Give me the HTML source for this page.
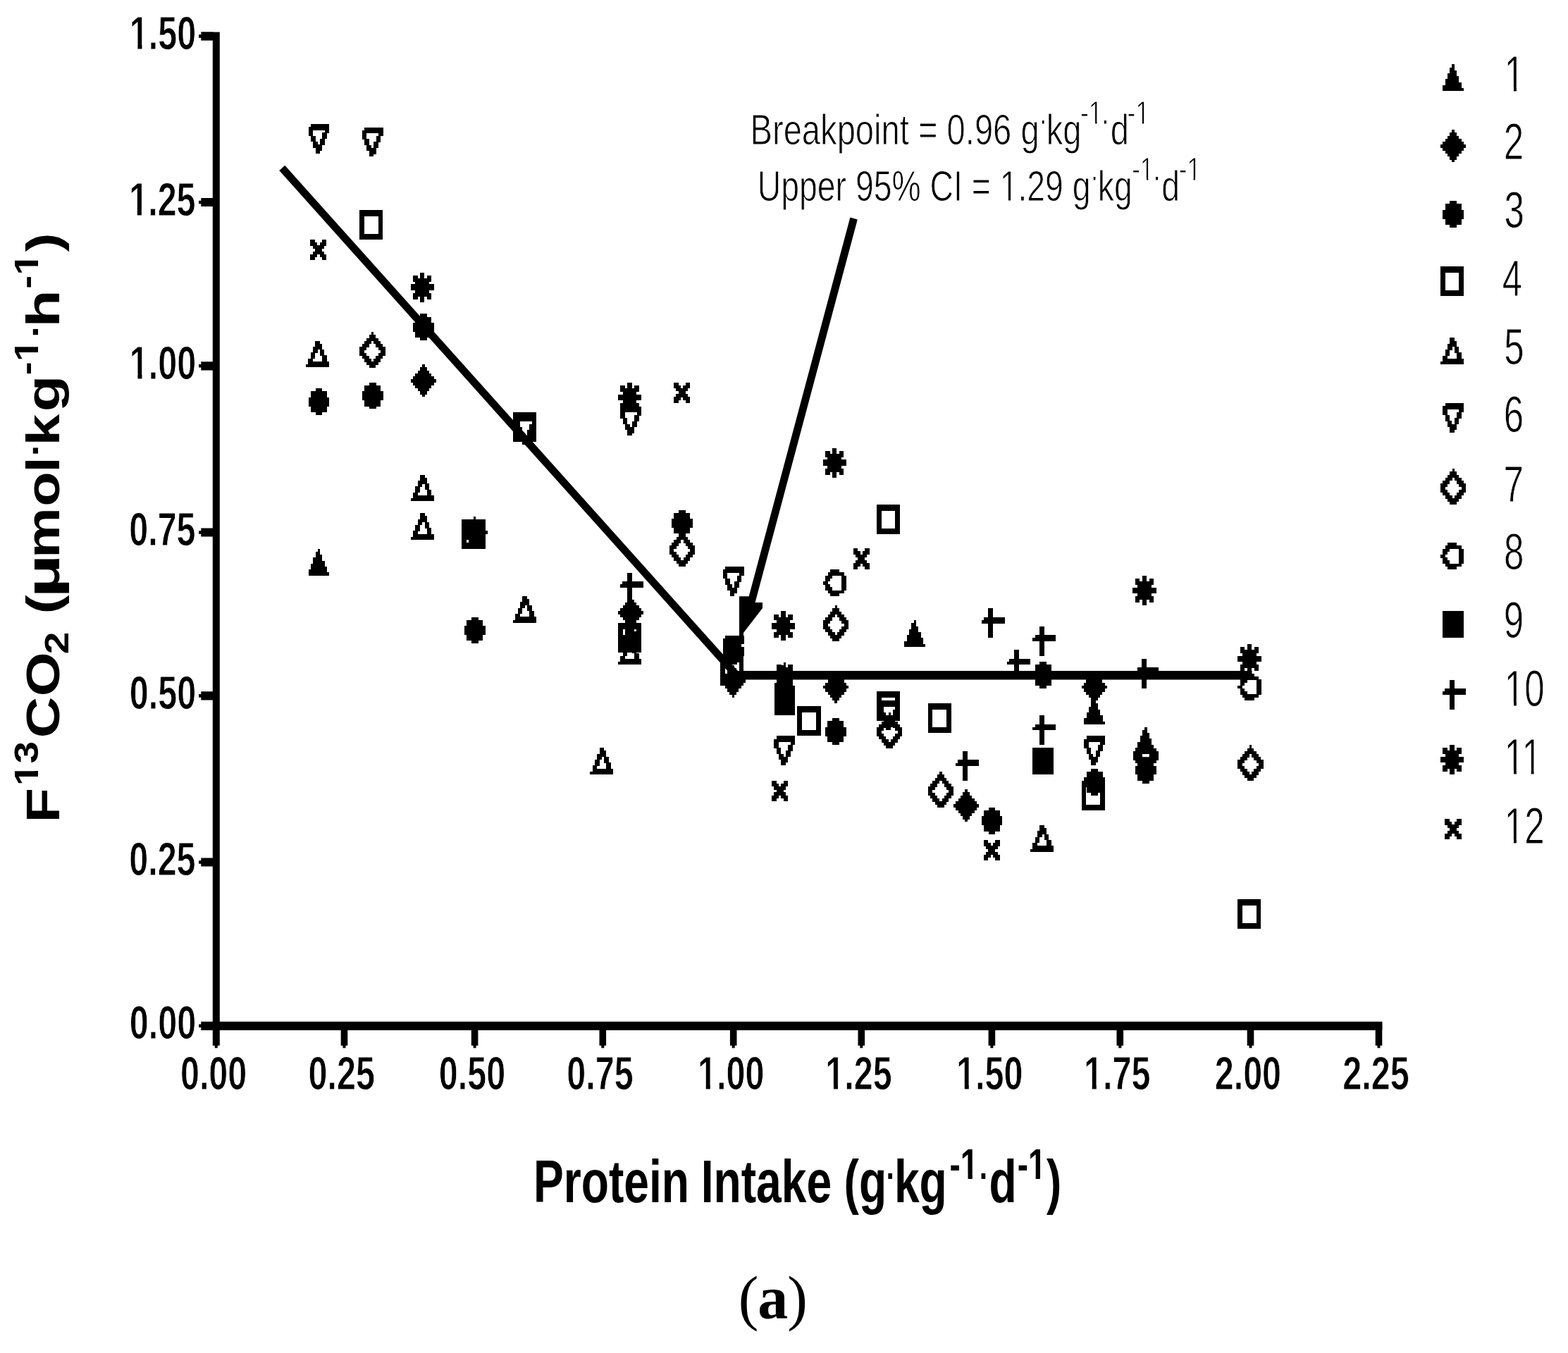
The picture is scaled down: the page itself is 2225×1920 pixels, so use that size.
<!DOCTYPE html>
<html lang="en"><head><meta charset="utf-8"><title>Breakpoint analysis of protein intake</title>
<style>html,body{margin:0;padding:0;background:#fff}body{width:2225px;height:1920px;overflow:hidden}svg{display:block}text{fill:#000}.s{font-family:"Liberation Sans",Arial,Helvetica,sans-serif}.r{font-family:"Liberation Serif","Times New Roman",serif}.b{font-weight:700}</style></head><body>
<svg xmlns="http://www.w3.org/2000/svg" width="2225" height="1920" viewBox="0 0 2225 1920" shape-rendering="geometricPrecision">
<rect width="2225" height="1920" fill="#fff"/>
<g fill="#000">
<path d="M301.8 45.4H311.8V1483.7H301.8ZM304.8 1482.7H308.8V1487.3H304.8ZM285.3 1449.7H1961.5V1461.9H285.3ZM282.1 1453.5H285.7V1458.1H282.1ZM285.3 1217.4H302.8V1229.6H285.3ZM282.1 1221.2H285.7V1225.8H282.1ZM285.3 981.3H302.8V993.5H285.3ZM282.1 985.1H285.7V989.7H282.1ZM285.3 749.4H302.8V761.6H285.3ZM282.1 753.2H285.7V757.8H282.1ZM285.3 513.2H302.8V525.4H285.3ZM282.1 517H285.7V521.6H282.1ZM285.3 280.9H302.8V293.1H285.3ZM282.1 284.7H285.7V289.3H282.1ZM285.3 45.25H302.8V57.45H285.3ZM282.1 49.05H285.7V53.65H282.1ZM483.7 1460.9H493.3V1483.7H483.7ZM486.5 1482.7H490.5V1487.3H486.5ZM668.8 1460.9H678.4V1483.7H668.8ZM671.6 1482.7H675.6V1487.3H671.6ZM850.5 1460.9H860.1V1483.7H850.5ZM853.3 1482.7H857.3V1487.3H853.3ZM1035.9 1460.9H1045.5V1483.7H1035.9ZM1038.7 1482.7H1042.7V1487.3H1038.7ZM1217.5 1460.9H1227.1V1483.7H1217.5ZM1220.3 1482.7H1224.3V1487.3H1220.3ZM1402.6 1460.9H1412.2V1483.7H1402.6ZM1405.4 1482.7H1409.4V1487.3H1405.4ZM1584.5 1460.9H1594.1V1483.7H1584.5ZM1587.3 1482.7H1591.3V1487.3H1587.3ZM1769.7 1460.9H1779.3V1483.7H1769.7ZM1772.5 1482.7H1776.5V1487.3H1772.5ZM1951.7 1460.9H1961.3V1483.7H1951.7ZM1954.5 1482.7H1958.5V1487.3H1954.5Z"/>
<path d="M400.3 238.4L1048 961.3" fill="none" stroke="#000" stroke-width="10.8"/>
<path d="M1040 958.2L1776.5 958.2" fill="none" stroke="#000" stroke-width="12.4"/>
<path d="M1211.6 310L1066.5 853" fill="none" stroke="#000" stroke-width="10.8"/>
<path d="M1049 846.3L1064 846.3L1072 855L1082 855L1082 863L1055 898L1055 903L1049 903Z"/>
<defs><path id="m1" d="M13.24 0H16.55V4.54H13.24ZM9.93 4.19H16.55V8.73H9.93ZM9.93 8.38H19.86V12.92H9.93ZM6.62 12.57H19.86V17.11H6.62ZM6.62 16.76H23.17V21.3H6.62ZM3.31 20.95H23.17V25.49H3.31ZM3.31 25.14H26.48V29.68H3.31ZM0 29.33H26.48V33.87H0ZM0 33.52H29.79V37.71H0Z"/><path id="m2" d="M16.55 0H19.86V4.54H16.55ZM13.24 4.19H23.17V8.73H13.24ZM9.93 8.38H26.48V12.92H9.93ZM6.62 12.57H29.79V17.11H6.62ZM3.31 16.76H33.1V21.3H3.31ZM0 20.95H36.41V25.49H0ZM3.31 25.14H33.1V29.68H3.31ZM6.62 29.33H29.79V33.87H6.62ZM9.93 33.52H26.48V38.06H9.93ZM13.24 37.71H23.17V42.25H13.24ZM16.55 41.9H19.86V46.09H16.55Z"/><path id="m3" d="M9.93 0H19.86V4.54H9.93ZM3.31 4.19H26.48V8.73H3.31ZM3.31 8.38H26.48V12.92H3.31ZM0 12.57H29.79V17.11H0ZM0 16.76H29.79V21.3H0ZM0 20.95H29.79V25.49H0ZM3.31 25.14H26.48V29.68H3.31ZM3.31 29.33H26.48V33.87H3.31ZM9.93 33.52H19.86V37.71H9.93Z"/><path id="m4" d="M0 0H33.1V4.54H0ZM0 4.19H33.1V8.73H0ZM0 8.38H6.62V12.92H0ZM26.48 8.38H33.1V12.92H26.48ZM0 12.57H6.62V17.11H0ZM26.48 12.57H33.1V17.11H26.48ZM0 16.76H6.62V21.3H0ZM26.48 16.76H33.1V21.3H26.48ZM0 20.95H6.62V25.49H0ZM26.48 20.95H33.1V25.49H26.48ZM0 25.14H6.62V29.68H0ZM26.48 25.14H33.1V29.68H26.48ZM0 29.33H6.62V33.87H0ZM26.48 29.33H33.1V33.87H26.48ZM0 33.52H33.1V38.06H0ZM0 37.71H33.1V41.9H0Z"/><path id="m5" d="M13.24 0H19.86V4.54H13.24ZM13.24 4.19H23.17V8.73H13.24ZM9.93 8.38H23.17V12.92H9.93ZM9.93 12.57H16.55V17.11H9.93ZM19.86 12.57H26.48V17.11H19.86ZM6.62 16.76H13.24V21.3H6.62ZM19.86 16.76H26.48V21.3H19.86ZM6.62 20.95H13.24V25.49H6.62ZM23.17 20.95H29.79V25.49H23.17ZM3.31 25.14H9.93V29.68H3.31ZM23.17 25.14H29.79V29.68H23.17ZM3.31 29.33H33.1V33.87H3.31ZM0 33.52H33.1V37.71H0Z"/><path id="m6" d="M3.31 0H29.79V4.54H3.31ZM0 4.19H29.79V8.73H0ZM0 8.38H6.62V12.92H0ZM23.17 8.38H29.79V12.92H23.17ZM0 12.57H6.62V17.11H0ZM19.86 12.57H26.48V17.11H19.86ZM3.31 16.76H9.93V21.3H3.31ZM19.86 16.76H26.48V21.3H19.86ZM3.31 20.95H9.93V25.49H3.31ZM16.55 20.95H23.17V25.49H16.55ZM6.62 25.14H13.24V29.68H6.62ZM16.55 25.14H23.17V29.68H16.55ZM6.62 29.33H19.86V33.87H6.62ZM9.93 33.52H19.86V38.06H9.93ZM9.93 37.71H16.55V41.9H9.93Z"/><path id="m7" d="M16.55 0H19.86V4.54H16.55ZM13.24 4.19H23.17V8.73H13.24ZM9.93 8.38H26.48V12.92H9.93ZM6.62 12.57H16.55V17.11H6.62ZM19.86 12.57H29.79V17.11H19.86ZM3.31 16.76H13.24V21.3H3.31ZM23.17 16.76H33.1V21.3H23.17ZM0 20.95H9.93V25.49H0ZM26.48 20.95H36.41V25.49H26.48ZM0 25.14H6.62V29.68H0ZM29.79 25.14H36.41V29.68H29.79ZM0 29.33H9.93V33.87H0ZM26.48 29.33H36.41V33.87H26.48ZM3.31 33.52H13.24V38.06H3.31ZM23.17 33.52H33.1V38.06H23.17ZM6.62 37.71H16.55V42.25H6.62ZM19.86 37.71H29.79V42.25H19.86ZM9.93 41.9H26.48V46.44H9.93ZM13.24 46.09H23.17V50.28H13.24Z"/><path id="m8" d="M9.93 0H23.17V4.54H9.93ZM6.62 4.19H29.79V8.73H6.62ZM3.31 8.38H13.24V12.92H3.31ZM26.48 8.38H33.1V12.92H26.48ZM3.31 12.57H9.93V17.11H3.31ZM26.48 12.57H33.1V17.11H26.48ZM0 16.76H6.62V21.3H0ZM26.48 16.76H33.1V21.3H26.48ZM3.31 20.95H9.93V25.49H3.31ZM26.48 20.95H33.1V25.49H26.48ZM3.31 25.14H13.24V29.68H3.31ZM26.48 25.14H33.1V29.68H26.48ZM6.62 29.33H29.79V33.87H6.62ZM9.93 33.52H23.17V37.71H9.93Z"/><path id="m9" d="M0 0H29.79V4.54H0ZM0 4.19H29.79V8.73H0ZM0 8.38H29.79V12.92H0ZM0 12.57H29.79V17.11H0ZM0 16.76H29.79V21.3H0ZM0 20.95H29.79V25.49H0ZM0 25.14H29.79V29.68H0ZM0 29.33H29.79V33.87H0ZM0 33.52H29.79V37.71H0Z"/><path id="m10" d="M9.93 0H16.55V4.54H9.93ZM9.93 4.19H16.55V8.73H9.93ZM9.93 8.38H16.55V12.92H9.93ZM3.31 12.57H33.1V17.11H3.31ZM0 16.76H33.1V21.3H0ZM9.93 20.95H16.55V25.49H9.93ZM9.93 25.14H16.55V29.68H9.93ZM9.93 29.33H16.55V33.87H9.93ZM9.93 33.52H16.55V38.06H9.93ZM9.93 37.71H16.55V41.9H9.93Z"/><path id="m11" d="M13.24 0H19.86V4.54H13.24ZM3.31 4.19H9.93V8.73H3.31ZM13.24 4.19H19.86V8.73H13.24ZM23.17 4.19H29.79V8.73H23.17ZM3.31 8.38H29.79V12.92H3.31ZM6.62 12.57H26.48V17.11H6.62ZM0 16.76H33.1V21.3H0ZM0 20.95H33.1V25.49H0ZM6.62 25.14H26.48V29.68H6.62ZM3.31 29.33H29.79V33.87H3.31ZM3.31 33.52H9.93V38.06H3.31ZM13.24 33.52H19.86V38.06H13.24ZM23.17 33.52H29.79V38.06H23.17ZM13.24 37.71H19.86V41.9H13.24Z"/><path id="m12" d="M0 0H6.62V4.54H0ZM16.55 0H23.17V4.54H16.55ZM0 4.19H9.93V8.73H0ZM13.24 4.19H23.17V8.73H13.24ZM3.31 8.38H19.86V12.92H3.31ZM6.62 12.57H16.55V17.11H6.62ZM3.31 16.76H19.86V21.3H3.31ZM0 20.95H9.93V25.49H0ZM13.24 20.95H23.17V25.49H13.24ZM0 25.14H6.62V29.33H0ZM16.55 25.14H23.17V29.33H16.55Z"/></defs>
<g shape-rendering="crispEdges"><use href="#m1" x="437.6" y="778.9"/><use href="#m1" x="880.3" y="879.7"/><use href="#m1" x="1098.6" y="939.5"/><use href="#m1" x="1283.4" y="880.2"/><use href="#m1" x="1538.2" y="990"/><use href="#m1" x="1611" y="1031.7"/><use href="#m2" x="582.7" y="517.3"/><use href="#m2" x="655.4" y="732.5"/><use href="#m2" x="877" y="846.5"/><use href="#m2" x="1022" y="943.5"/><use href="#m2" x="1167.9" y="951.9"/><use href="#m2" x="1352.9" y="1120.3"/><use href="#m2" x="1534.7" y="951.9"/><use href="#m2" x="1607.6" y="1049.1"/><use href="#m7" x="1607.6" y="1044.95"/><use href="#m3" x="437.6" y="551.1"/><use href="#m3" x="513.8" y="542.7"/><use href="#m3" x="586" y="445.4"/><use href="#m3" x="658.9" y="875.6"/><use href="#m3" x="952.9" y="723.5"/><use href="#m3" x="1025.8" y="905.7"/><use href="#m3" x="1171" y="1019.2"/><use href="#m3" x="1392.6" y="1145.8"/><use href="#m3" x="1465.4" y="939"/><use href="#m3" x="1538.2" y="1090.8"/><use href="#m3" x="1611" y="1074"/><use href="#m4" x="510.3" y="298.1"/><use href="#m4" x="728.1" y="585.1"/><use href="#m4" x="877" y="883.9"/><use href="#m4" x="1022.3" y="931"/><use href="#m4" x="1131.4" y="1002.4"/><use href="#m4" x="1244" y="716"/><use href="#m4" x="1244" y="981.2"/><use href="#m4" x="1316.7" y="998"/><use href="#m4" x="1534.7" y="1108"/><use href="#m4" x="1756.3" y="1276.4"/><use href="#m5" x="434" y="483.5"/><use href="#m5" x="582.7" y="673.6"/><use href="#m5" x="582.7" y="728.2"/><use href="#m5" x="728.1" y="846"/><use href="#m5" x="837.3" y="1061.3"/><use href="#m5" x="877" y="905.6"/><use href="#m5" x="1462" y="1171"/><use href="#m6" x="437.6" y="175.9"/><use href="#m6" x="513.8" y="180.5"/><use href="#m6" x="731.5" y="589"/><use href="#m6" x="880.4" y="576.6"/><use href="#m6" x="1025.8" y="804.3"/><use href="#m6" x="1025.8" y="901.5"/><use href="#m6" x="1098.4" y="1044.4"/><use href="#m6" x="1247.3" y="994"/><use href="#m6" x="1538.2" y="1044.4"/><use href="#m7" x="510.3" y="471.3"/><use href="#m7" x="949.7" y="753.4"/><use href="#m7" x="1168" y="859.3"/><use href="#m7" x="1244" y="1011.3"/><use href="#m7" x="1316.7" y="1095.3"/><use href="#m7" x="1756.3" y="1057.4"/><use href="#m8" x="1168" y="808.2"/><use href="#m8" x="1756.4" y="956"/><use href="#m4" x="655.4" y="736.9"/><use href="#m9" x="1098.6" y="976.9"/><use href="#m9" x="1465.3" y="1061.3"/><use href="#m10" x="880" y="812.7"/><use href="#m10" x="1356" y="1065.8"/><use href="#m10" x="1392.5" y="863.4"/><use href="#m10" x="1429" y="922"/><use href="#m10" x="1465.2" y="888.7"/><use href="#m10" x="1465.2" y="1015.1"/><use href="#m10" x="1610.5" y="934.8"/><use href="#m11" x="582.6" y="386.7"/><use href="#m11" x="877" y="542.8"/><use href="#m11" x="1095" y="867.4"/><use href="#m11" x="1167.6" y="635.7"/><use href="#m11" x="1607.4" y="816.9"/><use href="#m11" x="1756.4" y="913.9"/><use href="#m12" x="440.3" y="340"/><use href="#m12" x="956" y="542.5"/><use href="#m12" x="1095" y="1107.7"/><use href="#m12" x="1101.9" y="943.3"/><use href="#m12" x="1210.6" y="778.2"/><use href="#m12" x="1395.8" y="1191.9"/><use href="#m1" x="2047.2" y="91.4"/><use href="#m2" x="2043.9" y="184.3"/><use href="#m3" x="2047.2" y="285.3"/><use href="#m4" x="2044" y="378.1"/><use href="#m5" x="2044" y="479.4"/><use href="#m6" x="2047.2" y="572.3"/><use href="#m7" x="2044" y="665.3"/><use href="#m8" x="2044" y="770.2"/><use href="#m9" x="2047.2" y="867.4"/><use href="#m10" x="2047" y="964.7"/><use href="#m11" x="2044" y="1056.8"/><use href="#m12" x="2050.4" y="1162"/></g>
<rect x="1620.9" y="1070" width="9.9" height="4.2" fill="#fff"/>
</g>
<text class="s b" transform="scale(0.7260,1)" stroke="#fff" stroke-width="0.9"><tspan x="253.19" y="1474.5" font-size="66.8">0.00</tspan></text>
<text class="s b" transform="scale(0.7260,1)" stroke="#fff" stroke-width="0.9"><tspan x="252.35" y="1242.2" font-size="66.8">0.25</tspan></text>
<text class="s b" transform="scale(0.7260,1)" stroke="#fff" stroke-width="0.9"><tspan x="253.19" y="1006.1" font-size="66.8">0.50</tspan></text>
<text class="s b" transform="scale(0.7260,1)" stroke="#fff" stroke-width="0.9"><tspan x="252.35" y="774.2" font-size="66.8">0.75</tspan></text>
<text class="s b" transform="scale(0.7260,1)" stroke="#fff" stroke-width="0.9"><tspan x="253.19" y="538" font-size="66.8">1.00</tspan></text>
<path transform="scale(0.7260,1)" fill="#fff" d="M256.06 530.38H269.2v9.12H256.06ZM277.52 530.38H289.79v9.12H277.52Z"/>
<text class="s b" transform="scale(0.7260,1)" stroke="#fff" stroke-width="0.9"><tspan x="252.35" y="305.7" font-size="66.8">1.25</tspan></text>
<path transform="scale(0.7260,1)" fill="#fff" d="M255.22 298.08H268.37v9.12H255.22ZM276.68 298.08H288.96v9.12H276.68Z"/>
<text class="s b" transform="scale(0.7260,1)" stroke="#fff" stroke-width="0.9"><tspan x="253.19" y="70.05" font-size="66.8">1.50</tspan></text>
<path transform="scale(0.7260,1)" fill="#fff" d="M256.06 62.43H269.2v9.12H256.06ZM277.52 62.43H289.79v9.12H277.52Z"/>
<text class="s b" transform="scale(0.7260,1)" stroke="#fff" stroke-width="0.9"><tspan x="352.5" y="1546.1" font-size="66.8">0.00</tspan></text>
<text class="s b" transform="scale(0.7260,1)" stroke="#fff" stroke-width="0.9"><tspan x="602.76" y="1546.1" font-size="66.8">0.25</tspan></text>
<text class="s b" transform="scale(0.7260,1)" stroke="#fff" stroke-width="0.9"><tspan x="857.87" y="1546.1" font-size="66.8">0.50</tspan></text>
<text class="s b" transform="scale(0.7260,1)" stroke="#fff" stroke-width="0.9"><tspan x="1107.86" y="1546.1" font-size="66.8">0.75</tspan></text>
<text class="s b" transform="scale(0.7260,1)" stroke="#fff" stroke-width="0.9"><tspan x="1363.79" y="1546.1" font-size="66.8">1.00</tspan></text>
<path transform="scale(0.7260,1)" fill="#fff" d="M1366.67 1538.48H1379.81v9.12H1366.67ZM1388.13 1538.48H1400.4v9.12H1388.13Z"/>
<text class="s b" transform="scale(0.7260,1)" stroke="#fff" stroke-width="0.9"><tspan x="1613.37" y="1546.1" font-size="66.8">1.25</tspan></text>
<path transform="scale(0.7260,1)" fill="#fff" d="M1616.24 1538.48H1629.39v9.12H1616.24ZM1637.7 1538.48H1649.98v9.12H1637.7Z"/>
<text class="s b" transform="scale(0.7260,1)" stroke="#fff" stroke-width="0.9"><tspan x="1869.3" y="1546.1" font-size="66.8">1.50</tspan></text>
<path transform="scale(0.7260,1)" fill="#fff" d="M1872.17 1538.48H1885.32v9.12H1872.17ZM1893.64 1538.48H1905.91v9.12H1893.64Z"/>
<text class="s b" transform="scale(0.7260,1)" stroke="#fff" stroke-width="0.9"><tspan x="2118.61" y="1546.1" font-size="66.8">1.75</tspan></text>
<path transform="scale(0.7260,1)" fill="#fff" d="M2121.48 1538.48H2134.62v9.12H2121.48ZM2142.94 1538.48H2155.21v9.12H2142.94Z"/>
<text class="s b" transform="scale(0.7260,1)" stroke="#fff" stroke-width="0.9"><tspan x="2374.26" y="1546.1" font-size="66.8">2.00</tspan></text>
<text class="s b" transform="scale(0.7260,1)" stroke="#fff" stroke-width="0.9"><tspan x="2624.39" y="1546.1" font-size="66.8">2.25</tspan></text>
<text class="s" transform="scale(0.7000,1)" stroke="#fff" stroke-width="1"><tspan x="3049.81" y="129.9" font-size="73">1</tspan></text>
<path transform="scale(0.7000,1)" fill="#fff" d="M3053.9 123.55H3068.63v7.85H3053.9ZM3074.13 123.55H3088.28v7.85H3074.13Z"/>
<text class="s" transform="scale(0.7000,1)" stroke="#fff" stroke-width="1"><tspan x="3048.21" y="226.5" font-size="73">2</tspan></text>
<text class="s" transform="scale(0.7000,1)" stroke="#fff" stroke-width="1"><tspan x="3049.12" y="323.2" font-size="73">3</tspan></text>
<text class="s" transform="scale(0.7000,1)" stroke="#fff" stroke-width="1"><tspan x="3045.5" y="420.4" font-size="73">4</tspan></text>
<text class="s" transform="scale(0.7000,1)" stroke="#fff" stroke-width="1"><tspan x="3048.94" y="516.8" font-size="73">5</tspan></text>
<text class="s" transform="scale(0.7000,1)" stroke="#fff" stroke-width="1"><tspan x="3048.21" y="613.5" font-size="73">6</tspan></text>
<text class="s" transform="scale(0.7000,1)" stroke="#fff" stroke-width="1"><tspan x="3048.02" y="711.9" font-size="73">7</tspan></text>
<text class="s" transform="scale(0.7000,1)" stroke="#fff" stroke-width="1"><tspan x="3048.75" y="807.6" font-size="73">8</tspan></text>
<text class="s" transform="scale(0.7000,1)" stroke="#fff" stroke-width="1"><tspan x="3048.39" y="904.9" font-size="73">9</tspan></text>
<text class="s" transform="scale(0.7000,1)" stroke="#fff" stroke-width="1"><tspan x="3049.81" y="1002.2" font-size="73">10</tspan></text>
<path transform="scale(0.7000,1)" fill="#fff" d="M3053.9 995.85H3068.63v7.85H3053.9ZM3074.13 995.85H3088.28v7.85H3074.13Z"/>
<text class="s" transform="scale(0.7000,1)" stroke="#fff" stroke-width="1"><tspan x="3049.81" y="1099.1" font-size="73">11</tspan></text>
<path transform="scale(0.7000,1)" fill="#fff" d="M3053.9 1092.75H3068.63v7.85H3053.9ZM3074.13 1092.75H3088.28v7.85H3074.13ZM3089.08 1092.75H3103.82v7.85H3089.08ZM3109.31 1092.75H3123.46v7.85H3109.31Z"/>
<text class="s" transform="scale(0.7000,1)" stroke="#fff" stroke-width="1"><tspan x="3049.81" y="1196.8" font-size="73">12</tspan></text>
<path transform="scale(0.7000,1)" fill="#fff" d="M3053.9 1190.45H3068.63v7.85H3053.9ZM3074.13 1190.45H3088.28v7.85H3074.13Z"/>
<text class="s" transform="scale(0.7730,1)" stroke="#fff" stroke-width="1"><tspan x="1377.11" y="204.9" font-size="61">Breakpoint = 0.96 g</tspan><tspan x="1906.54" y="186.8" font-size="50">·</tspan><tspan x="1920.85" y="204.9" font-size="61">kg</tspan><tspan x="1983.18" y="175.9" font-size="46">-1</tspan><tspan x="2020.77" y="186.8" font-size="50">·</tspan><tspan x="2038.55" y="204.9" font-size="61">d</tspan><tspan x="2069.34" y="175.9" font-size="46">-1</tspan></text>
<path transform="scale(0.7730,1)" fill="#fff" d="M2001.08 171.9H2010.55v5.5H2001.08ZM2013.64 171.9H2022.74v5.5H2013.64ZM2087.23 171.9H2096.7v5.5H2087.23ZM2099.8 171.9H2108.9v5.5H2099.8Z"/>
<text class="s" transform="scale(0.7600,1)" stroke="#fff" stroke-width="1"><tspan x="1414.22" y="284.9" font-size="61">Upper 95% CI = 1.29 g</tspan><tspan x="2035.18" y="266.8" font-size="50">·</tspan><tspan x="2049.83" y="284.9" font-size="61">kg</tspan><tspan x="2113.46" y="255.9" font-size="46">-1</tspan><tspan x="2151.76" y="266.8" font-size="50">·</tspan><tspan x="2168.85" y="284.9" font-size="61">d</tspan><tspan x="2201.09" y="255.9" font-size="46">-1</tspan></text>
<path transform="scale(0.7600,1)" fill="#fff" d="M1870.3 279.59H1882.69v6.81H1870.3ZM1887.12 279.59H1899.03v6.81H1887.12ZM2131.35 251.9H2140.82v5.5H2131.35ZM2143.91 251.9H2153.02v5.5H2143.91ZM2218.98 251.9H2228.45v5.5H2218.98ZM2231.55 251.9H2240.65v5.5H2231.55Z"/>
<text class="s b" transform="scale(0.7550,1)"><tspan x="1002.61" y="1706.4" font-size="85">Protein</tspan><tspan x="1317.44" y="1706.4" font-size="85">Intake</tspan><tspan x="1586.21" y="1706.4" font-size="85">(g</tspan><tspan x="1665.62" y="1686.6" font-size="54">·</tspan><tspan x="1680.67" y="1706.4" font-size="85">kg</tspan><tspan x="1784.85" y="1672.6" font-size="60.8">-1</tspan><tspan x="1840.72" y="1686.6" font-size="54">·</tspan><tspan x="1858.85" y="1706.4" font-size="85">d</tspan><tspan x="1912.14" y="1672.6" font-size="60.8">-1</tspan><tspan x="1966.94" y="1706.4" font-size="85">)</tspan></text>
<path transform="scale(0.7550,1)" fill="#fff" d="M1807.71 1665.67H1819.27v8.43H1807.71ZM1827.66 1665.67H1838.42v8.43H1827.66ZM1935 1665.67H1946.55v8.43H1935ZM1954.94 1665.67H1965.7v8.43H1954.94Z"/>
<text class="s b" transform="translate(83.7,1162) rotate(-90) scale(1.2000,1)"><tspan x="-4.54" y="0" font-size="67.3">F</tspan><tspan x="39.04" y="-30.1" font-size="47.4">13</tspan><tspan x="95.64" y="0" font-size="67.3">C</tspan><tspan x="144.89" y="0" font-size="67.3">O</tspan><tspan x="194.76" y="13" font-size="47.4">2</tspan><tspan x="242.3" y="0" font-size="67.3">(</tspan><tspan x="261.35" y="0" font-size="67.3" textLength="51.57" lengthAdjust="spacingAndGlyphs">µ</tspan><tspan x="308.29" y="0" font-size="67.3">m</tspan><tspan x="369.39" y="0" font-size="67.3">o</tspan><tspan x="409.46" y="0" font-size="67.3">l</tspan><tspan x="428.57" y="-16.8" font-size="49">·</tspan><tspan x="441.21" y="0" font-size="67.3">k</tspan><tspan x="481.42" y="0" font-size="67.3" textLength="43.17" lengthAdjust="spacingAndGlyphs">g</tspan><tspan x="524.85" y="-30.1" font-size="47.4">-1</tspan><tspan x="569.07" y="-16.8" font-size="49">·</tspan><tspan x="581.33" y="0" font-size="67.3" textLength="44.4" lengthAdjust="spacingAndGlyphs">h</tspan><tspan x="626.94" y="-30.1" font-size="47.4">-1</tspan><tspan x="670.67" y="0" font-size="67.3">)</tspan></text>
<path transform="translate(83.7,1162) rotate(-90) scale(1.2000,1)" fill="#fff" d="M41.08 -35.5H50.08v6.9H41.08ZM56.62 -35.5H65.01v6.9H56.62ZM542.68 -35.5H551.68v6.9H542.68ZM558.22 -35.5H566.61v6.9H558.22ZM644.76 -35.5H653.77v6.9H644.76ZM660.31 -35.5H668.7v6.9H660.31Z"/>
<text class="r" transform="scale(1.0000,1)"><tspan x="1047.73" y="1871" font-size="86">(</tspan><tspan x="1075.2" y="1871" font-size="86" font-weight="700">a</tspan><tspan x="1117.2" y="1871" font-size="86">)</tspan></text>
</svg></body></html>
